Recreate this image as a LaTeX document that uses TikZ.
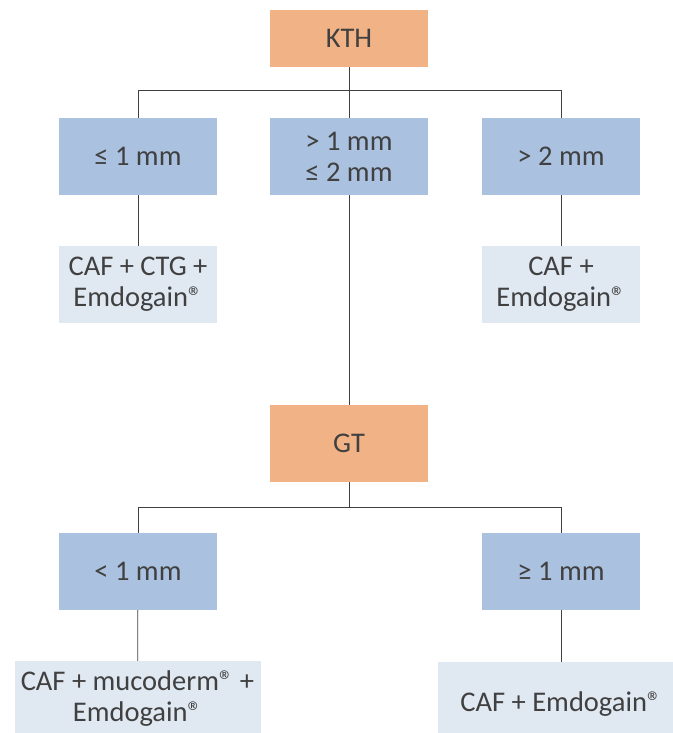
\documentclass[tikz,border=0pt]{standalone}
\usepackage{fontspec}
\setmainfont{Carlito}
\usepackage{tikz}

\definecolor{kthorange}{HTML}{F1B386}
\definecolor{stepblue}{HTML}{AAC1E0}
\definecolor{therapy}{HTML}{E0E8F2}
\definecolor{inkgray}{HTML}{404040}

\begin{document}
\begin{tikzpicture}[
      x=1pt, y=-1pt,
      every node/.style={font=\fontsize{28.5}{31}\selectfont,text=inkgray,align=center,inner sep=0pt},
      tissue/.style={fill=kthorange,minimum width=158pt},
      sizebox/.style={fill=stepblue,minimum width=158pt,minimum height=77pt},
      treat/.style={fill=therapy,minimum width=158pt,minimum height=77pt},
      wide/.style={fill=therapy,minimum width=246pt},
      branch/.style={draw=inkgray,line width=0.8pt}
    ]
    \useasboundingbox (0,0) rectangle (672,733);
    % Draw the KTH tree.
    \node[tissue,minimum height=57pt] (kth) at (349,38.5) {KTH};
    \coordinate (kthbar) at (349,90);
    \node[sizebox] (kthlow) at (138,156.5) {≤ 1 mm};
    \node[sizebox] (kthmid) at (349,156.5) {> 1 mm\\≤ 2 mm};
    \node[sizebox] (kthhigh) at (561,156.5) {> 2 mm};
    \node[treat] (ctg) at (138,284.5) {CAF + CTG +\\Emdogain®};
    \node[treat] (emd) at (561,284.5) {CAF +\\Emdogain®};
    % Draw the GT tree.
    \node[tissue,minimum height=77pt] (gt) at (349,443.5) {GT};
    \coordinate (gtbar) at (349,507);
    \node[sizebox] (gtlow) at (138,571.5) {< 1 mm};
    \node[sizebox] (gthigh) at (561,571.5) {≥ 1 mm};
    \node[wide,minimum height=75pt] (muco) at (137.5,698.5) {CAF + mucoderm® +\\Emdogain®};
    \node[wide,minimum height=84pt] (emdgt) at (561,704) {CAF + Emdogain®};
    % Draw the branches.
    \draw[branch] (kth) -- (kthbar);
    \draw[branch] (kthbar) -| (kthlow);
    \draw[branch] (kthbar) -| (kthhigh);
    \draw[branch] (kthbar) -- (kthmid);
    \draw[branch] (kthlow) -- (ctg);
    \draw[branch] (kthhigh) -- (emd);
    \draw[branch] (kthmid) -- (gt);
    \draw[branch] (gt) -- (gtbar);
    \draw[branch] (gtbar) -| (gtlow);
    \draw[branch] (gtbar) -| (gthigh);
    \draw[branch] (gtlow) -- (muco);
    \draw[branch] (gthigh) -- (emdgt);
    \end{tikzpicture}
\end{document}
